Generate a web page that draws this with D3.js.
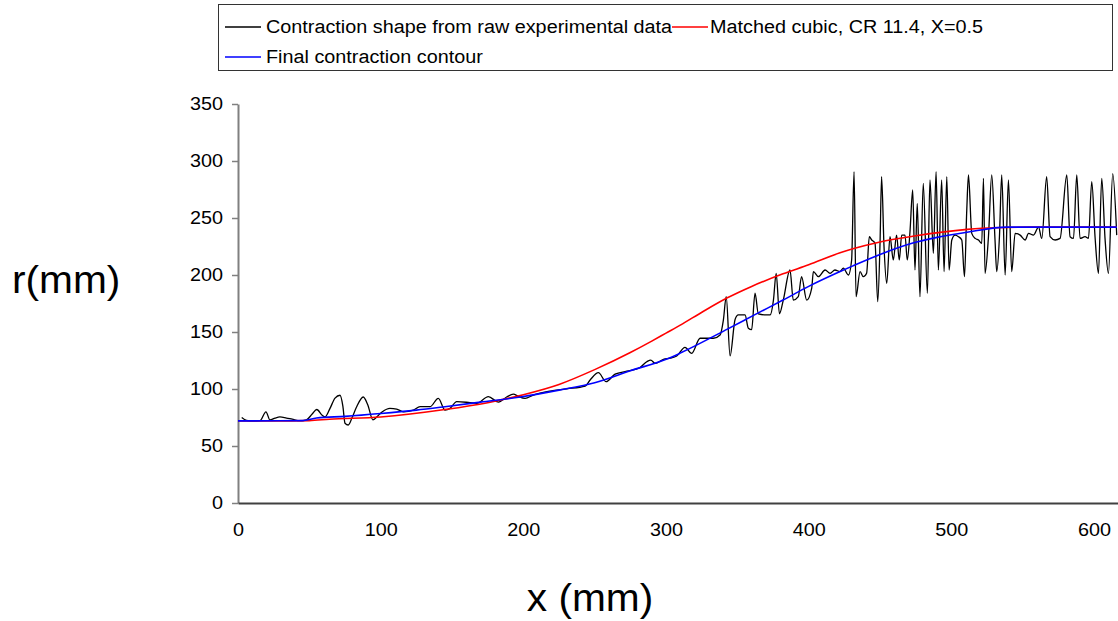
<!DOCTYPE html>
<html>
<head>
<meta charset="utf-8">
<script src="https://cdn.jsdelivr.net/npm/d3@7"></script>
<style>
  body { margin: 0; background: #fff; }
  svg { display: block; }
  text { font-family: "Liberation Sans", Arial, Helvetica, sans-serif; fill: #000; }
</style>
</head>
<body>
<svg id="chart" width="1118" height="621"></svg>
<script>
// Legend labels
const seriesNames = [
  "Contraction shape from raw experimental data",
  "Matched cubic, CR 11.4, X=0.5",
  "Final contraction contour"
];

// Axis ticks
const xTicks = [0, 100, 200, 300, 400, 500, 600];
const yTicks = [0, 50, 100, 150, 200, 250, 300, 350];

// Raw measured contraction radius (x in mm, r in mm)
const rawX = [2.6, 6, 10, 15.4, 19.6, 22.4, 26, 29.4, 34, 38, 43.5, 48, 52, 55.2, 59, 61, 64.5, 68, 71.5, 73.5,
  75, 77.3, 80, 83, 87.8, 91, 94.5, 98.5, 101.2, 106.5, 111.2, 115.9, 122.9, 127.6, 134.6, 140.4, 145.1, 148.6, 153.3, 162.6,
  167.3, 175.5, 182.5, 188.3, 193, 196.5, 201.2, 207, 218.7, 230.4, 243.3, 246.8, 252.6, 258, 264.3, 272.5, 281.8, 286.5, 289.3, 292.4,
  298.2, 303, 307.5, 313.3, 318, 323.9, 333.2, 337.9, 340.2, 342.2, 344.9, 348.4, 350.7, 355.4, 357.7, 360, 362.4, 364.7, 370.6, 373,
  375.3, 377.2, 379.5, 382.2, 386.9, 389.2, 392.7, 395, 398.6, 402.1, 403.3, 406.8, 411.5, 415, 418.4, 421.9, 424.3, 427.8, 430.1, 431.8,
  433.2, 436, 438.3, 440.6, 442.5, 444.2, 446.5, 448.4, 450, 451.1, 452.8, 454.7, 457, 459.3, 461.6, 463.5, 465.2, 467.5, 469.1, 471,
  472.9, 474.5, 476.1, 478, 480.3, 483.2, 485, 487.4, 489.3, 490.9, 493.2, 494.9, 496.8, 498.4, 500.3, 502.6, 505, 507.3, 509.2, 510.8,
  512, 514.3, 516.7, 519, 521.3, 522.5, 523.6, 526, 528.3, 530.6, 531.8, 533.7, 535.3, 537.7, 540, 542.3, 544.7, 548.2, 551.7, 554.1,
  557.6, 561.1, 563.4, 566.8, 569.2, 572.7, 576.2, 580.9, 583.2, 585.6, 587.9, 590.2, 593.7, 596.1, 598.4, 600.7, 603.1, 605.4, 607.7, 610.1,
  613.1, 615.9];
const rawR = [75, 72.5, 72, 72.2, 80, 72.8, 74.5, 75.5, 74.5, 73.5, 72.2, 73, 78, 82, 77, 75.5, 83, 92, 94.5, 85,
  70, 68.4, 75, 84, 93, 86, 73, 77, 80, 83, 82.4, 80, 81.5, 84.5, 84.5, 91.8, 81.5, 83, 89, 88,
  87.4, 93.3, 88.5, 93, 95.5, 93.5, 91.8, 94.7, 98.2, 100.2, 102.6, 107.9, 114.3, 106.4, 113, 115.6, 118.9, 123.9, 125.4, 122.4,
  126, 127, 129, 136.6, 131.3, 144.5, 144.5, 147.4, 160.5, 181, 129, 161, 165, 165, 153.3, 152, 184, 166, 165, 165,
  178, 201.5, 166, 178, 204.4, 178, 181, 198.5, 178, 188.3, 203, 198.5, 204.4, 201.5, 204.4, 203, 206, 200, 213.2, 290.6,
  181, 203, 198.5, 201.5, 233.6, 230.7, 227.8, 176.6, 227.8, 286.2, 224.9, 192.7, 233.6, 213.2, 235, 213.2, 235, 235, 213.2, 238,
  274.6, 204.4, 262.8, 181, 280.4, 184, 283.4, 219, 290.6, 204.4, 283.4, 203, 286.2, 204.4, 230.7, 235, 233.6, 230.7, 198.5, 257,
  287.7, 236.5, 232.1, 230.7, 227.8, 284.8, 201.5, 233.6, 287.7, 230.7, 203, 233.6, 287.7, 200, 283.4, 203, 236.5, 235, 230.7, 236.5,
  235, 242, 232.1, 286.2, 233.6, 230.7, 232.1, 287.7, 233.6, 232.1, 287.7, 232.1, 233.6, 232.1, 281.9, 233.6, 201.5, 284.8, 232.1, 201.5,
  289, 235];

// Matched cubic contour
const cubicX = [0, 25, 50, 64, 100, 145, 175, 200, 225, 250, 275, 290, 300, 310, 326, 343, 360, 382, 400, 422, 431, 450, 473, 511, 530, 555, 616];
const cubicR = [72, 72, 72.3, 73.5, 75.5, 82, 88, 95, 104, 117, 132, 142, 149, 156, 168, 180, 190, 201, 209, 219.5, 223, 229, 234, 240, 241.5, 242, 242];

// Final contraction contour
const contourX = [0, 45, 55, 75, 100, 125, 145, 170, 198, 225, 250, 275, 302, 310, 343, 362, 382, 400, 422, 431, 450, 473, 490, 511, 539, 616];
const contourR = [72, 72.3, 74.5, 76, 78.5, 81.5, 84.5, 88.5, 93, 99, 105.5, 116, 127, 131.5, 152.5, 165, 178, 190, 203, 208, 218, 228, 233, 237.5, 242, 242];

const svg = d3.select("#chart");

const x = d3.scaleLinear().domain([0, 616.8]).range([238, 1118]);
const y = d3.scaleLinear().domain([0, 350]).range([503, 104]);

// Widen glyphs slightly (wide sans look of the labels)
function widen(sel, k) {
  sel.each(function () {
    const w = this.getComputedTextLength();
    d3.select(this).attr("textLength", w * k).attr("lengthAdjust", "spacingAndGlyphs");
  });
}

// Y axis
const yAxis = svg.append("g")
  .attr("transform", `translate(${x(0)},0)`)
  .call(d3.axisLeft(y).tickValues(yTicks).tickSize(6).tickPadding(9).tickSizeOuter(0));
yAxis.select(".domain").attr("stroke", "#808080").attr("stroke-width", 2);
yAxis.selectAll(".tick line").attr("stroke", "#808080").attr("stroke-width", 1.5);
yAxis.selectAll(".tick text").attr("font-size", 18).attr("font-family", "Liberation Sans, Arial, sans-serif")
  .call(widen, 1.1);

// X axis
const xAxis = svg.append("g")
  .attr("transform", `translate(0,${y(0)})`)
  .call(d3.axisBottom(x).tickValues(xTicks).tickSize(0).tickPadding(20).tickSizeOuter(0));
xAxis.select(".domain").attr("stroke", "#404040").attr("stroke-width", 2);
xAxis.selectAll(".tick text").attr("font-size", 18).attr("font-family", "Liberation Sans, Arial, sans-serif")
  .call(widen, 1.1);

// Series lines
const line = d3.line()
  .x(d => x(d[0]))
  .y(d => y(d[1]))
  .curve(d3.curveMonotoneX);

const series = [
  { pts: d3.zip(rawX, rawR), color: "#000000", width: 1.3 },
  { pts: d3.zip(cubicX, cubicR), color: "#ff0000", width: 1.6 },
  { pts: d3.zip(contourX, contourR), color: "#0000ff", width: 1.6 }
];

svg.append("g").selectAll("path")
  .data(series)
  .join("path")
  .attr("d", d => line(d.pts))
  .attr("fill", "none")
  .attr("stroke", d => d.color)
  .attr("stroke-width", d => d.width)
  .attr("stroke-linejoin", "round");

// Legend
const legend = svg.append("g");
legend.append("rect")
  .attr("x", 218.5).attr("y", 4.5)
  .attr("width", 894).attr("height", 66)
  .attr("fill", "#fff").attr("stroke", "#333").attr("stroke-width", 1);

const legendItems = [
  { name: seriesNames[0], color: "#000000", lx: 225, ly: 27, tx: 266 },
  { name: seriesNames[1], color: "#ff0000", lx: 672, ly: 27, tx: 710 },
  { name: seriesNames[2], color: "#0000ff", lx: 225, ly: 57, tx: 266 }
];
legendItems.forEach(it => {
  legend.append("line")
    .attr("x1", it.lx).attr("x2", it.lx + 36)
    .attr("y1", it.ly).attr("y2", it.ly)
    .attr("stroke", it.color).attr("stroke-width", 1.3);
  legend.append("text")
    .attr("x", it.tx).attr("y", it.ly)
    .attr("dy", "0.35em")
    .attr("font-size", 18)
    .text(it.name)
    .call(widen, 1.1);
});

// Axis titles
svg.append("text")
  .attr("x", 12).attr("y", 280)
  .attr("dy", "0.35em")
  .attr("font-size", 38)
  .text("r(mm)")
  .call(widen, 1.07);

svg.append("text")
  .attr("x", 590).attr("y", 598)
  .attr("dy", "0.35em")
  .attr("text-anchor", "middle")
  .attr("font-size", 38)
  .text("x (mm)")
  .call(widen, 1.07);
</script>
</body>
</html>
